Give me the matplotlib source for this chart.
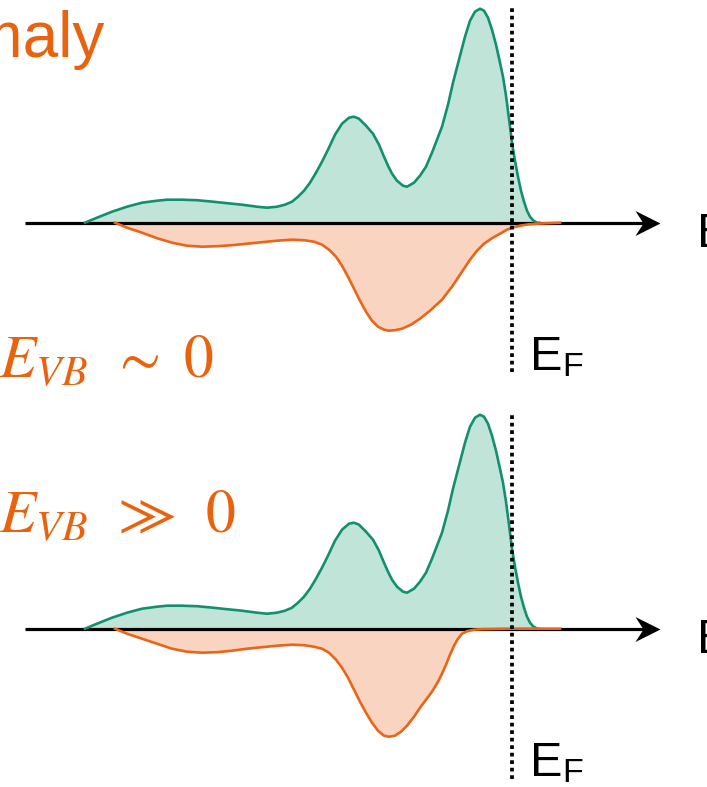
import matplotlib
matplotlib.use("Agg")
import matplotlib.pyplot as plt
from matplotlib.path import Path

plt.rcParams['font.family'] = ['Liberation Sans', 'DejaVu Sans']
plt.rcParams['mathtext.fontset'] = 'stix'

# spin-up DOS (same in both panels), energy relative to E_F
up_E = [-4.27, -4.15, -4.0, -3.85, -3.7, -3.55, -3.45, -3.3, -3.15, -2.99, -2.85, -2.7,
        -2.55, -2.45, -2.35, -2.27, -2.2, -2.14, -2.08, -2.02, -1.96, -1.9, -1.84, -1.77,
        -1.7, -1.63, -1.58, -1.53, -1.46, -1.39, -1.33, -1.28, -1.24, -1.2, -1.15, -1.09,
        -1.05, -0.98, -0.92, -0.86, -0.8, -0.75, -0.7, -0.64, -0.59, -0.53, -0.47, -0.42,
        -0.37, -0.32, -0.28, -0.24, -0.2, -0.16, -0.12, -0.09, -0.06, -0.03, 0.0, 0.03,
        0.06, 0.09, 0.12, 0.15, 0.18, 0.21, 0.25, 0.27]
up_D = [0.0, 0.05, 0.11, 0.16, 0.2, 0.22, 0.23, 0.23, 0.225, 0.21, 0.195, 0.18,
        0.16, 0.15, 0.16, 0.18, 0.21, 0.26, 0.32, 0.4, 0.5, 0.61, 0.73, 0.88,
        0.99, 1.05, 1.06, 1.04, 0.97, 0.89, 0.78, 0.66, 0.57, 0.49, 0.42, 0.37,
        0.36, 0.4, 0.47, 0.56, 0.7, 0.83, 0.96, 1.18, 1.4, 1.63, 1.86, 2.02,
        2.11, 2.14, 2.12, 2.05, 1.93, 1.78, 1.6, 1.46, 1.27, 1.04, 0.8, 0.62,
        0.46, 0.32, 0.21, 0.12, 0.06, 0.025, 0.0, 0.0]

# spin-down DOS, panel 1 (E_VB ~ 0)
dn1_E = [-3.97, -3.85, -3.7, -3.55, -3.4, -3.25, -3.1, -2.95, -2.8, -2.65, -2.5, -2.35,
         -2.2, -2.08, -1.98, -1.9, -1.83, -1.76, -1.7, -1.64, -1.58, -1.52, -1.46, -1.4,
         -1.34, -1.28, -1.23, -1.17, -1.1, -1.01, -0.92, -0.82, -0.7, -0.6, -0.5, -0.42,
         -0.35, -0.28, -0.2, -0.12, -0.05, 0.0, 0.08, 0.16, 0.25, 0.35, 0.48]
dn1_D = [0.0, -0.05, -0.1, -0.155, -0.2, -0.23, -0.24, -0.235, -0.225, -0.21, -0.195, -0.18,
         -0.17, -0.175, -0.19, -0.22, -0.27, -0.34, -0.43, -0.54, -0.66, -0.78, -0.89, -0.98,
         -1.04, -1.07, -1.08, -1.075, -1.06, -1.02, -0.96, -0.88, -0.77, -0.64, -0.49, -0.37,
         -0.28, -0.21, -0.155, -0.11, -0.07, -0.05, -0.03, -0.017, -0.01, -0.005, 0.0]

# spin-down DOS, panel 2 (E_VB >> 0)
dn2_E = [-3.97, -3.85, -3.7, -3.55, -3.4, -3.25, -3.1, -2.95, -2.8, -2.65, -2.5, -2.35,
         -2.2, -2.08, -1.98, -1.9, -1.83, -1.76, -1.7, -1.64, -1.58, -1.52, -1.46, -1.4,
         -1.34, -1.28, -1.23, -1.17, -1.11, -1.05, -0.98, -0.92, -0.86, -0.8, -0.74, -0.7,
         -0.66, -0.62, -0.58, -0.54, -0.5, -0.45, -0.38, -0.3, 0.0, 0.48]
dn2_D = [0.0, -0.05, -0.1, -0.15, -0.2, -0.23, -0.24, -0.235, -0.22, -0.2, -0.185, -0.17,
         -0.16, -0.165, -0.18, -0.2, -0.24, -0.31, -0.39, -0.49, -0.61, -0.73, -0.84, -0.94,
         -1.02, -1.07, -1.08, -1.07, -1.03, -0.97, -0.88, -0.79, -0.71, -0.63, -0.53, -0.45,
         -0.36, -0.26, -0.17, -0.1, -0.05, -0.025, -0.01, -0.005, 0.0, 0.0]

panel_base = [5.643, 1.583]          # baseline of each panel
panel_down = [(dn1_E, dn1_D), (dn2_E, dn2_D)]
panel_text = [r'$E_{VB}\,\ \sim\ 0$', r'$E_{VB}\,\ \gg\,\ 0$']
panel_text_y = [4.10, 2.55]
ef_line = [(4.15, 7.82), (0.08, 3.72)]
ef_label_y = [4.17, 0.11]
e_label_y = [5.40, 1.34]

green_line = '#12906d'
green_fill = '#c1e4d9'
orange_line = '#eb6418'
orange_fill = '#f9d5c1'
text_orange = '#e9630f'

fig = plt.figure(figsize=(7.07, 7.87), dpi=100)
ax = fig.add_axes([0, 0, 1, 1])
ax.set_xlim(-5.12, 1.95)
ax.set_ylim(0, 7.87)
ax.axis('off')

# stealth arrow head
head = Path([(0, 0), (-1, 0.5), (-0.68, 0), (-1, -0.5), (0, 0)],
            [Path.MOVETO, Path.LINETO, Path.LINETO, Path.LINETO, Path.CLOSEPOLY])

for i, y0 in enumerate(panel_base):
    dE, dD = panel_down[i]
    ax.fill_between(up_E, y0, [y0 + d for d in up_D], color=green_fill, lw=0)
    ax.fill_between(dE, y0, [y0 + d for d in dD], color=orange_fill, lw=0)
    ax.plot([-4.87, 1.40], [y0, y0], color='black', lw=2.3, solid_capstyle='butt')
    ax.plot([1.48], [y0], marker=head, markersize=36, color='black', mew=0)
    ax.plot(up_E, [y0 + d for d in up_D], color=green_line, lw=1.9)
    ax.plot(dE, [y0 + d for d in dD], color=orange_line, lw=1.9)

    ax.plot([0, 0], ef_line[i], color='black', lw=2.7, linestyle=(0, (1, 1)))
    ax.text(0.17, ef_label_y[i], r'E$_\mathregular{F}$', fontsize=35,
            ha='left', va='baseline', color='black')
    ax.text(1.85, e_label_y[i], 'E', fontsize=35, ha='left', va='baseline',
            color='black')
    ax.text(-5.13, panel_text_y[i], panel_text[i], fontsize=43, ha='left',
            va='baseline', color=text_orange)

ax.text(-4.07, 7.30, 'Anomaly', fontsize=46, ha='right', va='baseline',
        color=text_orange)

fig.savefig('out.png', dpi=100)
